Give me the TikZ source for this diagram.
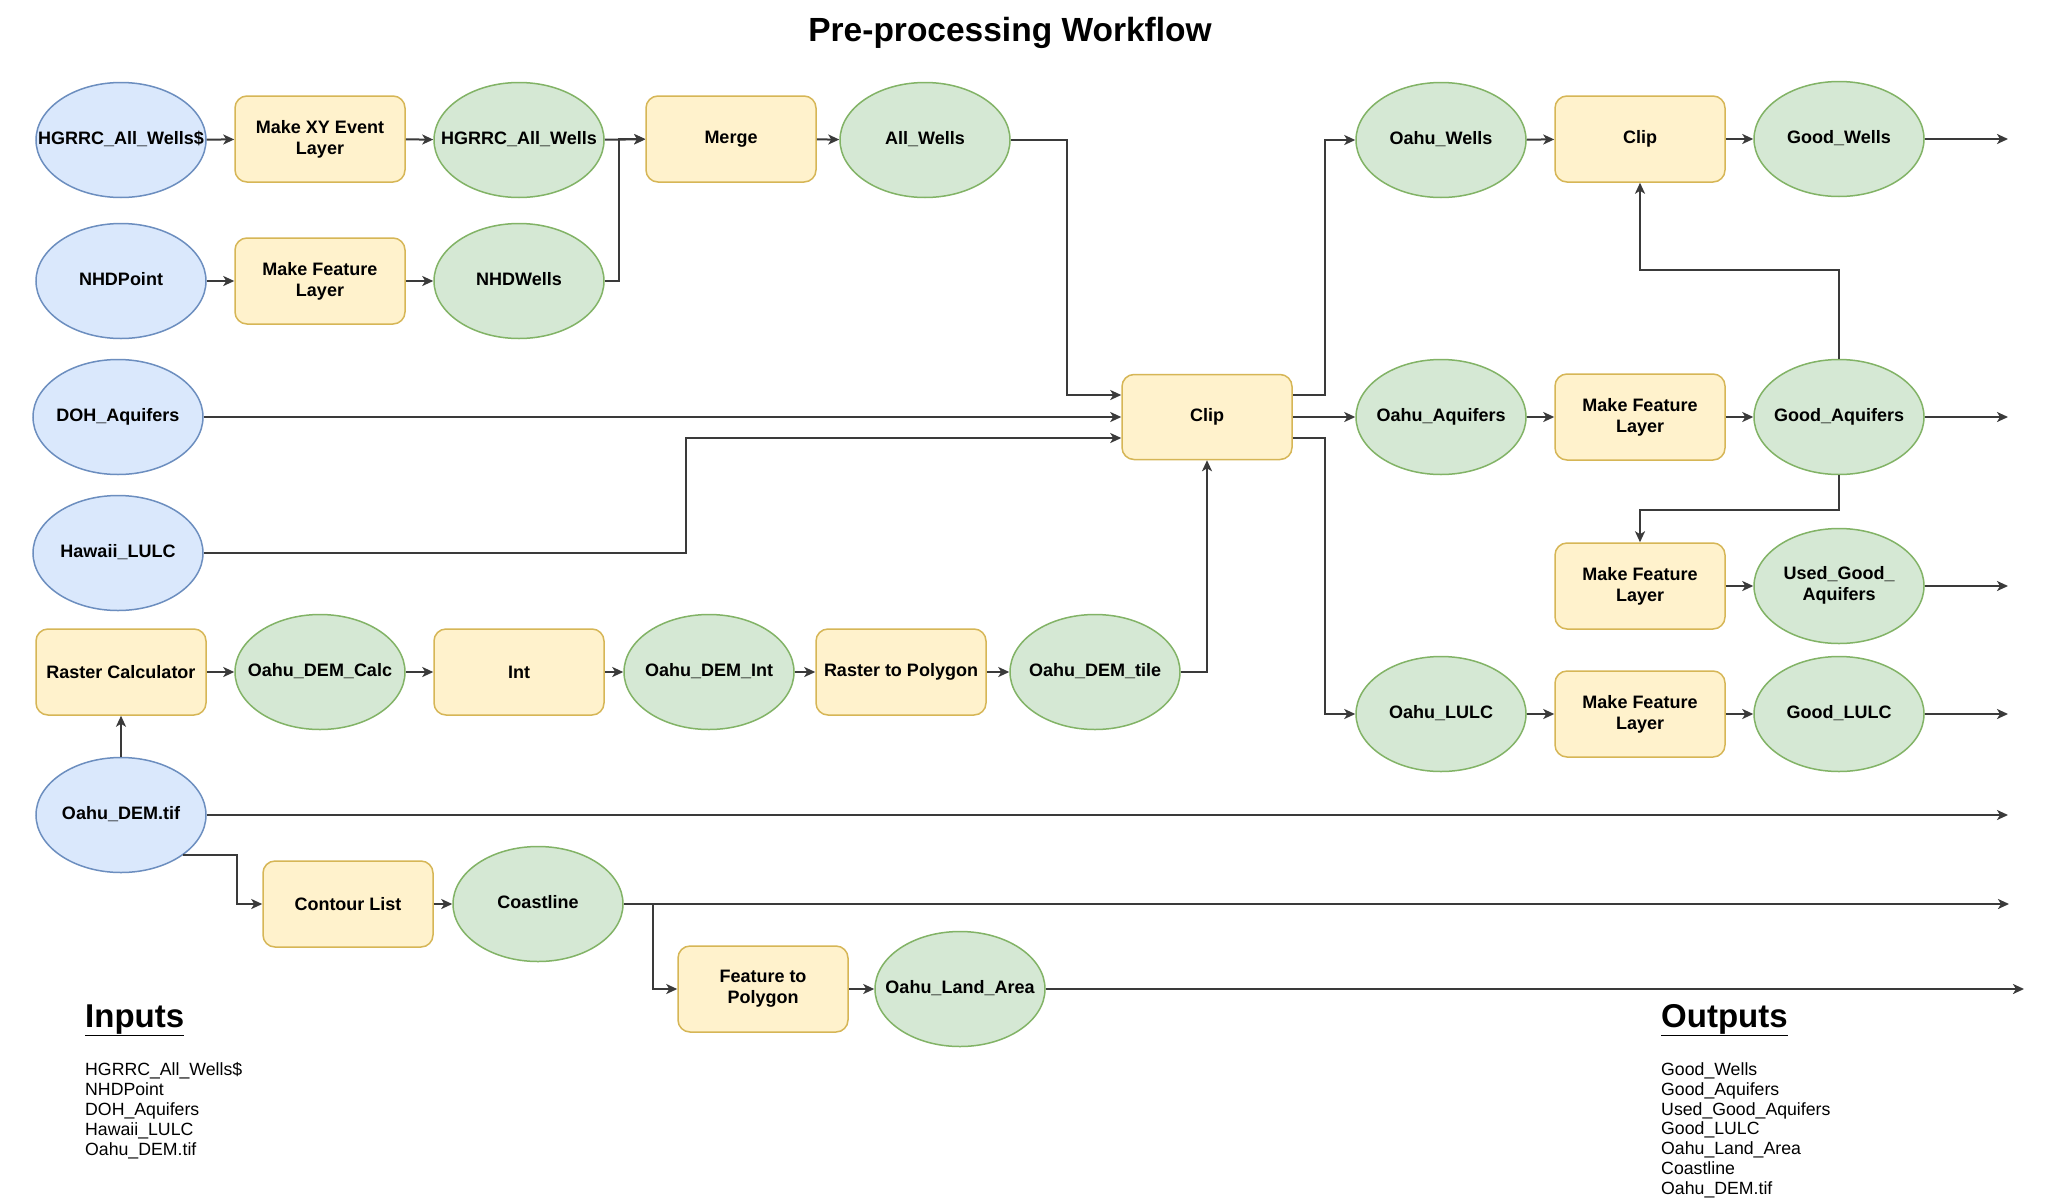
\documentclass[tikz,border=0pt]{standalone}
\usepackage{fontspec}
\setmainfont{Liberation Sans}
\usetikzlibrary{arrows.meta,calc,shapes.geometric}
\definecolor{bfill}{HTML}{DAE8FC}\definecolor{bdraw}{HTML}{6C8EBF}
\definecolor{gfill}{HTML}{D5E8D4}\definecolor{gdraw}{HTML}{82B366}
\definecolor{yfill}{HTML}{FFF2CC}\definecolor{ydraw}{HTML}{D6B656}
\definecolor{edgec}{HTML}{3A3A3A}
\newcommand{\zb}[1]{\makebox[0pt][c]{\begin{tabular}{@{}c@{}}#1\end{tabular}}}
\begin{document}
\begin{tikzpicture}[x=1pt,y=-1pt,
  lbl/.style={font=\fontsize{18}{21}\selectfont\bfseries, align=center, text=black},
  inp/.style={ellipse, draw=bdraw, fill=bfill, line width=1.5pt, minimum width=170pt, minimum height=115pt, inner sep=0pt, lbl},
  dat/.style={ellipse, draw=gdraw, fill=gfill, line width=1.5pt, minimum width=170pt, minimum height=115pt, inner sep=0pt, lbl},
  proc/.style={rectangle, rounded corners=12pt, draw=ydraw, fill=yfill, line width=1.5pt, minimum width=170pt, minimum height=86pt, inner sep=0pt, lbl},
  arr/.style={draw=edgec, line width=2pt, -{Stealth[length=11pt,width=10pt,inset=3pt]}},
  head/.style={font=\fontsize{33}{40}\selectfont\bfseries, inner sep=0pt},
  lst/.style={font=\fontsize{17.7}{19.8}\selectfont, align=left, inner sep=0pt}]
\fill[white] (0,0) rectangle (2066,1202);
\useasboundingbox (0,0) rectangle (2066,1202);

% title
\node[anchor=base, font=\fontsize{33.5}{40}\selectfont\bfseries, inner sep=0pt] (title) at (1010,41) {Pre-processing Workflow};

% row 1
\node[inp]  (hgrrcS) at (121,140) {\zb{HGRRC\_All\_Wells\$}};
\node[proc] (mkxy)   at (320,139) {Make XY Event\\Layer};
\node[dat]  (hgrrc)  at (519,140) {\zb{HGRRC\_All\_Wells}};
\node[proc] (merge)  at (731,139) {Merge};
\node[dat]  (allw)   at (925,140) {\zb{All\_Wells}};
\node[dat]  (oahuw)  at (1441,140) {\zb{Oahu\_Wells}};
\node[proc] (clipa)  at (1640,139) {Clip};
\node[dat]  (goodw)  at (1839,139) {\zb{Good\_Wells}};

% row 2
\node[inp]  (nhdp)  at (121,281) {\zb{NHDPoint}};
\node[proc] (mkfla) at (320,281) {Make Feature\\Layer};
\node[dat]  (nhdw)  at (519,281) {\zb{NHDWells}};

% row 3
\node[inp]  (doh)    at (118,417) {\zb{DOH\_Aquifers}};
\node[proc, minimum height=85pt] (clip) at (1207,417) {Clip};
\node[dat]  (oahuaq) at (1441,417) {\zb{Oahu\_Aquifers}};
\node[proc] (mkflb)  at (1640,417) {Make Feature\\Layer};
\node[dat]  (goodaq) at (1839,417) {\zb{Good\_Aquifers}};

% row 4
\node[inp]  (hawaii) at (118,553) {\zb{Hawaii\_LULC}};
\node[proc] (mkflc)  at (1640,586) {Make Feature\\Layer};
\node[dat]  (usedaq) at (1839,586) {\zb{Used\_Good\_\\Aquifers}};

% row 5
\node[proc] (rcalc)   at (121,672) {Raster Calculator};
\node[dat]  (demcalc) at (320,672) {\zb{Oahu\_DEM\_Calc}};
\node[proc] (intp)    at (519,672) {Int};
\node[dat]  (demint)  at (709,672) {\zb{Oahu\_DEM\_Int}};
\node[proc] (rtp)     at (901,672) {Raster to Polygon};
\node[dat]  (demtile) at (1095,672) {\zb{Oahu\_DEM\_tile}};
\node[dat]  (oahululc) at (1441,714) {\zb{Oahu\_LULC}};
\node[proc] (mkfld)   at (1640,714) {Make Feature\\Layer};
\node[dat]  (goodlulc) at (1839,714) {\zb{Good\_LULC}};

% row 6+
\node[inp]  (dem)     at (121,815) {\zb{Oahu\_DEM.tif}};
\node[proc] (contour) at (348,904) {Contour List};
\node[dat]  (coast)   at (538,904) {\zb{Coastline}};
\node[proc] (ftp)     at (763,989) {Feature to\\Polygon};
\node[dat]  (land)    at (960,989) {\zb{Oahu\_Land\_Area}};

% free ends
\coordinate (e1) at (2008,139);
\coordinate (e2) at (2008,417);
\coordinate (e3) at (2008,586);
\coordinate (e4) at (2008,714);
\coordinate (e5) at (2008,815);
\coordinate (e6) at (2009,904);
\coordinate (e7) at (2024,989);

% connectors row 1-2
\draw[arr] (hgrrcS) -- (mkxy);
\draw[arr] (mkxy) -- (hgrrc);
\draw[arr] (hgrrc) -- (merge);
\draw[arr] (merge) -- (allw);
\draw[arr] (nhdp) -- (mkfla);
\draw[arr] (mkfla) -- (nhdw);
\draw[arr] (nhdw.east) -- ++(14,0) |- (merge.west);

% into main clip
\draw[arr] (allw.east) -- ++(56,0) |- ($(clip.west)+(0,-22)$);
\draw[arr] (doh.east) -- (clip.west);
\draw[arr] (hawaii.east) -- ++(482,0) |- ($(clip.west)+(0,21)$);
\draw[arr] (demtile.east) -| (clip.south);

% out of main clip
\draw[arr] ($(clip.east)+(0,-22)$) -- ++(32,0) |- (oahuw.west);
\draw[arr] (clip.east) -- (oahuaq.west);
\draw[arr] ($(clip.east)+(0,21)$) -- ++(32,0) |- (oahululc.west);

% right side
\draw[arr] (oahuw) -- (clipa);
\draw[arr] (clipa) -- (goodw);
\draw[arr] (goodw.east) -- (e1);
\draw[arr] (oahuaq) -- (mkflb);
\draw[arr] (mkflb) -- (goodaq);
\draw[arr] (goodaq.east) -- (e2);
\draw[arr] (goodaq.north) -- ++(0,-89) -| (clipa.south);
\draw[arr] (goodaq.south) -- ++(0,35) -| (mkflc.north);
\draw[arr] (mkflc) -- (usedaq);
\draw[arr] (usedaq.east) -- (e3);
\draw[arr] (oahululc) -- (mkfld);
\draw[arr] (mkfld) -- (goodlulc);
\draw[arr] (goodlulc.east) -- (e4);

% DEM chain
\draw[arr] (rcalc) -- (demcalc);
\draw[arr] (demcalc) -- (intp);
\draw[arr] (intp) -- (demint);
\draw[arr] (demint) -- (rtp);
\draw[arr] (rtp) -- (demtile);
\draw[arr] (dem.north) -- (rcalc.south);
\draw[arr] (dem.east) -- (e5);
\draw[arr] (dem.-33) -- ++(54,0) |- (contour.west);
\draw[arr] (contour) -- (coast);
\draw[arr] (coast.east) -- (e6);
\draw[arr] (coast.east) -- ++(29,0) |- (ftp.west);
\draw[arr] (ftp) -- (land);
\draw[arr] (land.east) -- (e7);

% legends
\node[head, anchor=base west] (inh) at (85,1027) {\underline{Inputs}};
\node[lst, anchor=north west] (inl) at (85,1062.5) {HGRRC\_All\_Wells\$\\NHDPoint\\DOH\_Aquifers\\Hawaii\_LULC\\Oahu\_DEM.tif};
\node[head, anchor=base west] (outh) at (1661,1027) {\underline{Outputs}};
\node[lst, anchor=north west] (outl) at (1661,1062.5) {Good\_Wells\\Good\_Aquifers\\Used\_Good\_Aquifers\\Good\_LULC\\Oahu\_Land\_Area\\Coastline\\Oahu\_DEM.tif};
\end{tikzpicture}
\end{document}
